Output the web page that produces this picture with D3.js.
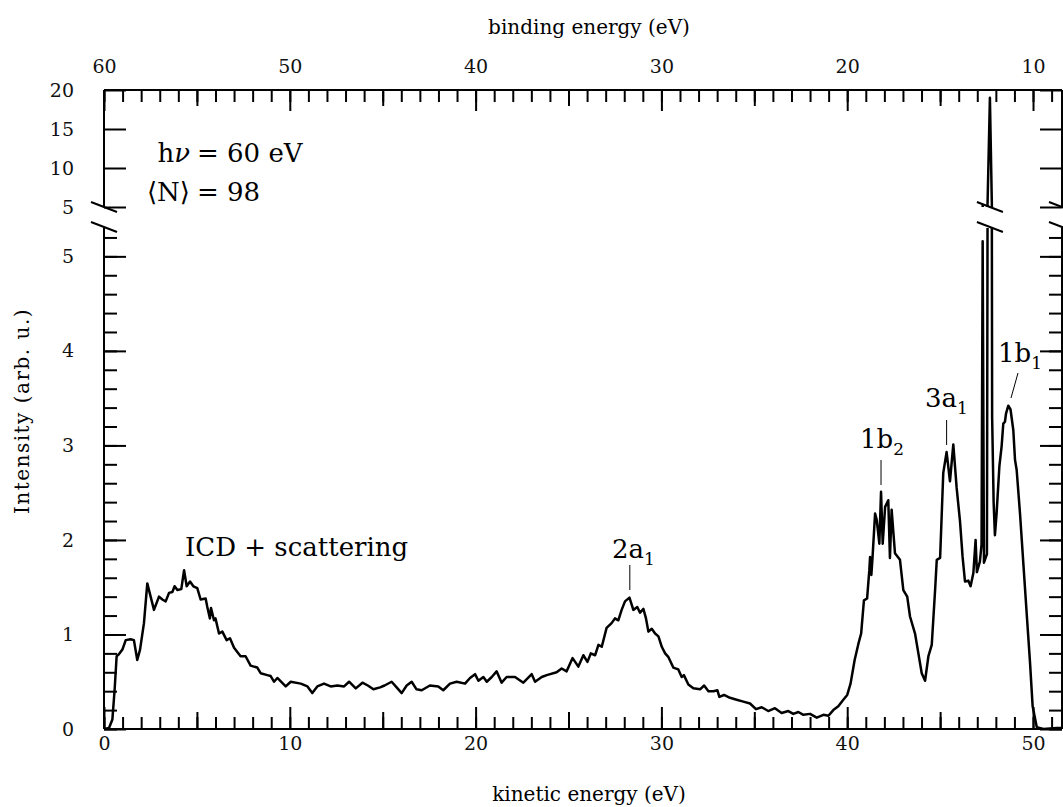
<!DOCTYPE html>
<html>
<head>
<meta charset="utf-8">
<script src="https://cdn.jsdelivr.net/npm/d3@7"></script>
<style>
  html, body { margin: 0; padding: 0; background: #fff; }
  svg { display: block; font-family: "DejaVu Serif", serif; }
  .axis { font-family: "DejaVu Serif", serif; }
  .axis text { font-size: 19px; fill: #111; }
  .axis line { stroke: #000; stroke-width: 2; }
</style>
</head>
<body>
<svg id="chart" width="1063" height="807"></svg>
<script>
// kinetic energy (eV) and intensity (arb. u.)
const kineticEnergy = [
  0.0, 0.27, 0.45, 0.57, 0.68, 0.80, 0.99, 1.17, 1.43, 1.61, 1.79, 1.94, 2.15, 2.33, 2.51, 2.69,
  2.96, 3.14, 3.32, 3.50, 3.68, 3.80, 3.95, 4.16, 4.31, 4.45, 4.63, 4.81, 5.02, 5.20, 5.47, 5.56,
  5.70, 5.76, 5.92, 6.00, 6.19, 6.37, 6.60, 6.78, 7.00, 7.35, 7.62, 7.89, 8.25, 8.43, 8.79, 8.97,
  9.15, 9.33, 9.78, 10.05, 10.59, 10.95, 11.21, 11.48, 11.84, 12.20, 12.56, 12.92, 13.19, 13.55, 13.91, 14.20,
  14.50, 14.86, 15.10, 15.48, 15.75, 16.02, 16.29, 16.56, 16.82, 17.10, 17.54, 17.99, 18.26, 18.62, 18.98, 19.43,
  19.70, 19.97, 20.15, 20.42, 20.60, 20.87, 21.13, 21.40, 21.67, 22.12, 22.57, 23.02, 23.20, 23.56, 23.83, 24.36,
  24.63, 24.90, 25.22, 25.53, 25.80, 26.02, 26.20, 26.43, 26.61, 26.79, 27.05, 27.32, 27.50, 27.68, 27.86, 28.04,
  28.28, 28.49, 28.70, 28.85, 29.03, 29.17, 29.30, 29.48, 29.66, 29.84, 30.02, 30.20, 30.38, 30.64, 30.91, 31.09,
  31.21, 31.45, 31.72, 32.08, 32.30, 32.53, 32.80, 33.01, 33.12, 33.37, 33.69, 34.05, 34.41, 34.77, 35.09, 35.40,
  35.75, 36.11, 36.47, 36.83, 37.10, 37.37, 37.64, 38.00, 38.36, 38.72, 38.99, 39.25, 39.52, 39.79, 40.00, 40.18,
  40.40, 40.60, 40.75, 40.90, 41.07, 41.19, 41.23, 41.30, 41.37, 41.50, 41.59, 41.73, 41.82, 41.91, 42.04, 42.21,
  42.30, 42.39, 42.57, 42.84, 43.02, 43.23, 43.38, 43.65, 43.83, 44.01, 44.19, 44.37, 44.55, 44.73, 44.82, 45.00,
  45.17, 45.35, 45.53, 45.71, 45.89, 46.07, 46.21, 46.34, 46.52, 46.64, 46.79, 46.91, 46.98, 47.14, 47.23, 47.29,
  47.36, 47.52, 47.68, 47.80, 47.88, 47.95, 48.04, 48.19, 48.31, 48.40, 48.49, 48.55, 48.67, 48.79, 48.94, 49.03,
  49.12, 49.30, 49.48, 49.66, 49.84, 49.98, 50.20, 50.56, 51.27, 51.56
];
const intensity = [
  0.00, 0.01, 0.10, 0.41, 0.77, 0.79, 0.84, 0.94, 0.95, 0.94, 0.73, 0.84, 1.12, 1.54, 1.40, 1.26,
  1.40, 1.37, 1.35, 1.44, 1.45, 1.51, 1.47, 1.48, 1.68, 1.51, 1.56, 1.51, 1.49, 1.37, 1.38, 1.29,
  1.17, 1.28, 1.15, 1.17, 1.01, 1.03, 0.94, 0.96, 0.86, 0.77, 0.77, 0.67, 0.65, 0.59, 0.57, 0.56,
  0.50, 0.54, 0.45, 0.50, 0.48, 0.45, 0.38, 0.45, 0.48, 0.45, 0.46, 0.45, 0.50, 0.43, 0.49, 0.46,
  0.42, 0.44, 0.46, 0.50, 0.44, 0.38, 0.46, 0.50, 0.42, 0.41, 0.46, 0.45, 0.41, 0.48, 0.50, 0.48,
  0.54, 0.58, 0.51, 0.55, 0.50, 0.55, 0.61, 0.49, 0.55, 0.55, 0.49, 0.58, 0.50, 0.55, 0.57, 0.60,
  0.64, 0.61, 0.75, 0.66, 0.78, 0.71, 0.80, 0.78, 0.89, 0.87, 1.07, 1.12, 1.17, 1.15, 1.26, 1.35,
  1.39, 1.26, 1.29, 1.23, 1.27, 1.17, 1.03, 1.06, 1.01, 0.98, 0.87, 0.80, 0.76, 0.65, 0.63, 0.55,
  0.57, 0.47, 0.43, 0.42, 0.46, 0.40, 0.40, 0.41, 0.34, 0.36, 0.33, 0.31, 0.29, 0.27, 0.21, 0.23,
  0.19, 0.22, 0.17, 0.19, 0.16, 0.18, 0.15, 0.16, 0.12, 0.15, 0.14, 0.20, 0.24, 0.31, 0.36, 0.48,
  0.73, 0.90, 1.01, 1.36, 1.38, 1.68, 1.82, 1.63, 1.84, 2.28, 2.21, 1.96, 2.51, 1.96, 2.35, 2.42,
  1.81, 2.32, 1.86, 1.79, 1.47, 1.40, 1.19, 1.01, 0.80, 0.59, 0.51, 0.77, 0.89, 1.47, 1.79, 1.81,
  2.71, 2.93, 2.62, 3.01, 2.55, 2.20, 1.82, 1.56, 1.57, 1.51, 1.65, 2.00, 1.66, 1.77, 1.95, 5.16,
  1.76, 1.85, 19.0, 3.30, 2.40, 2.05, 2.28, 2.78, 2.99, 3.23, 3.25, 3.34, 3.42, 3.38, 3.16, 2.85,
  2.74, 2.28, 1.75, 1.22, 0.70, 0.24, 0.02, 0.00, 0.01, 0.01
];

const keTicks = [0, 10, 20, 30, 40, 50];
const beTicks = [60, 50, 40, 30, 20, 10];
const lowTicks = [0, 1, 2, 3, 4, 5];
const highTicks = [5, 10, 15, 20];
const photonEnergy = 60;

const peaks = [
  { name: "2a", sub: "1", ke: 28.3, top: 565, bottom: 590, tx: 612, ty: 558 },
  { name: "1b", sub: "2", ke: 41.82, top: 460, bottom: 485, tx: 860, ty: 448 },
  { name: "3a", sub: "1", ke: 45.35, top: 420, bottom: 445, tx: 925, ty: 407 }
];

const svg = d3.select("#chart");
const L = 104, R = 1062, B = 729, T = 90;
const lowTop = 228, highBottom = 207;

const x = d3.scaleLinear().domain([0, 51.56]).range([L, R]);
const xBind = d3.scaleLinear().domain([photonEnergy, photonEnergy - 51.56]).range([L, R]);
const yLow = d3.scaleLinear().domain([0, 5.3]).range([B, lowTop]);
const yHigh = d3.scaleLinear().domain([5, 20]).range([highBottom, T]);

const data = kineticEnergy.map((k, i) => [k, intensity[i]]);

const defs = svg.append("defs");
defs.append("clipPath").attr("id", "clipLow")
  .append("rect").attr("x", L).attr("y", lowTop).attr("width", R - L).attr("height", B - lowTop);
defs.append("clipPath").attr("id", "clipHigh")
  .append("rect").attr("x", L).attr("y", T).attr("width", R - L).attr("height", highBottom - T);

const lineLow = d3.line().x(d => x(d[0])).y(d => yLow(d[1]));
const lineHigh = d3.line().x(d => x(d[0])).y(d => yHigh(d[1]));

svg.append("path").datum(data).attr("clip-path", "url(#clipLow)")
  .attr("d", lineLow).attr("fill", "none").attr("stroke", "#000")
  .attr("stroke-width", 2.5).attr("stroke-linejoin", "round");
svg.append("path").datum(data).attr("clip-path", "url(#clipHigh)")
  .attr("d", lineHigh).attr("fill", "none").attr("stroke", "#000")
  .attr("stroke-width", 2.5).attr("stroke-linejoin", "round");

// ticks helper: tick lines pointing inward, no domain line
function addAxis(axis, tx, ty, labels) {
  const g = svg.append("g").attr("class", "axis")
    .attr("transform", `translate(${tx},${ty})`).call(axis);
  g.select(".domain").remove();
  if (!labels) g.selectAll("text").remove();
  return g;
}

const range = (a, b, s) => d3.range(a, b + 1e-9, s);
const fmt = d3.format("d");

// bottom: kinetic energy
addAxis(d3.axisBottom(x).tickValues(range(0, 51, 1)).tickSize(-12), 0, B, false);
addAxis(d3.axisBottom(x).tickValues([5, 15, 25, 35, 45]).tickSize(-17), 0, B, false);
addAxis(d3.axisBottom(x).tickValues(keTicks).tickFormat(fmt).tickSize(-22).tickPadding(8), 0, B, true);

// top: binding energy
addAxis(d3.axisTop(xBind).tickValues(range(9, 60, 1)).tickSize(-12), 0, T, false);
addAxis(d3.axisTop(xBind).tickValues([55, 45, 35, 25, 15]).tickSize(-16), 0, T, false);
addAxis(d3.axisTop(xBind).tickValues(beTicks).tickFormat(fmt).tickSize(-21).tickPadding(17), 0, T, true);

// left / right, lower segment
addAxis(d3.axisLeft(yLow).tickValues(range(0, 5.2, 0.2)).tickSize(-13), L, 0, false);
addAxis(d3.axisLeft(yLow).tickValues(lowTicks).tickFormat(fmt).tickSize(-22).tickPadding(30), L, 0, true);
addAxis(d3.axisRight(yLow).tickValues(range(0, 5.2, 0.2)).tickSize(-13), R, 0, false);
addAxis(d3.axisRight(yLow).tickValues(lowTicks).tickSize(-22), R, 0, false);

// left / right, upper segment
addAxis(d3.axisLeft(yHigh).tickValues(highTicks).tickFormat(fmt).tickSize(-22).tickPadding(30), L, 0, true);
addAxis(d3.axisRight(yHigh).tickValues(highTicks).tickSize(-22), R, 0, false);

// frame
const frame = svg.append("g").attr("stroke", "#000").attr("stroke-width", 2).attr("fill", "none");
frame.append("line").attr("x1", L).attr("x2", R).attr("y1", B).attr("y2", B);
frame.append("line").attr("x1", L).attr("x2", R).attr("y1", T).attr("y2", T);
[L, R].forEach(px => {
  frame.append("line").attr("x1", px).attr("x2", px).attr("y1", T).attr("y2", highBottom);
  frame.append("line").attr("x1", px).attr("x2", px).attr("y1", lowTop).attr("y2", B);
});

// break marks on both axes and on the spike
[L, R, x(47.68)].forEach(px => {
  [highBottom, lowTop - 1].forEach(py => {
    frame.append("line")
      .attr("x1", px - 13).attr("y1", py - 5)
      .attr("x2", px + 13).attr("y2", py + 5);
  });
});

// axis titles
svg.append("text").attr("x", 589).attr("y", 34).attr("text-anchor", "middle")
  .attr("font-size", 20).text("binding energy (eV)");
svg.append("text").attr("x", 589).attr("y", 801).attr("text-anchor", "middle")
  .attr("font-size", 20).text("kinetic energy (eV)");
svg.append("text").attr("transform", "translate(29,411) rotate(-90)").attr("text-anchor", "middle")
  .attr("font-size", 20).attr("letter-spacing", 1.5).text("Intensity (arb. u.)");

// photon energy and cluster size
const info = svg.append("g").attr("font-size", 26);
const t1 = info.append("text").attr("x", 190).attr("y", 162).attr("text-anchor", "end");
t1.append("tspan").text("h");
t1.append("tspan").attr("font-style", "italic").text("ν");
info.append("text").attr("x", 197).attr("y", 162).text("= 60 eV");
info.append("text").attr("x", 190).attr("y", 201).attr("text-anchor", "end").text("⟨N⟩");
info.append("text").attr("x", 197).attr("y", 201).text("= 98");

svg.append("text").attr("x", 185).attr("y", 556).attr("font-size", 26).text("ICD + scattering");

// orbital labels
const ann = svg.append("g").attr("font-size", 26);
peaks.forEach(p => {
  const t = ann.append("text").attr("x", p.tx).attr("y", p.ty);
  t.append("tspan").text(p.name);
  t.append("tspan").attr("font-size", 17).attr("dy", 7).text(p.sub);
  ann.append("line").attr("x1", x(p.ke)).attr("x2", x(p.ke))
    .attr("y1", p.top).attr("y2", p.bottom).attr("stroke", "#000").attr("stroke-width", 1);
});
const t4 = ann.append("text").attr("x", 998).attr("y", 362);
t4.append("tspan").text("1b");
t4.append("tspan").attr("font-size", 17).attr("dy", 7).text("1");
ann.append("line").attr("x1", 1018).attr("y1", 373).attr("x2", 1011).attr("y2", 398)
  .attr("stroke", "#000").attr("stroke-width", 1);
</script>
</body>
</html>
